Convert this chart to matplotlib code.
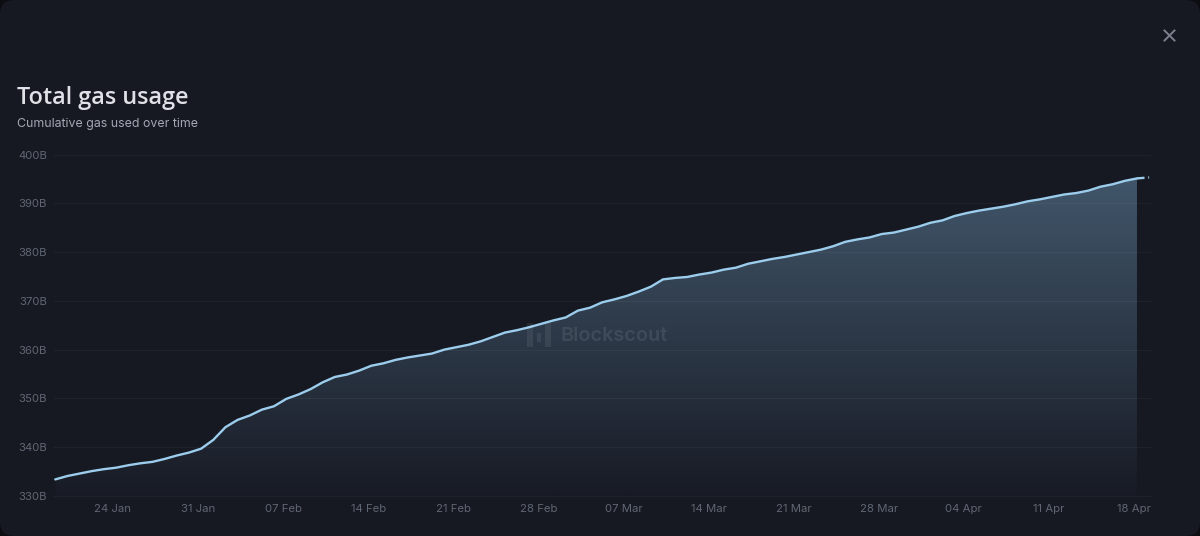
import matplotlib
matplotlib.use("Agg")
import matplotlib.pyplot as plt
from matplotlib.colors import LinearSegmentedColormap
from matplotlib.lines import Line2D
from matplotlib.patches import FancyBboxPatch, Rectangle
import numpy as np
import pandas as pd

# Data (billions of gas, one value per day)
start_date = "2025-01-19"
gas_used = [
    333.4, 334.1, 334.6, 335.1, 335.5, 335.8, 336.3, 336.7, 337.0, 337.6,
    338.3, 338.9, 339.7, 341.5, 344.1, 345.6, 346.5, 347.7, 348.4, 349.9,
    350.8, 351.9, 353.3, 354.4, 354.9, 355.7, 356.7, 357.2, 357.9, 358.4,
    358.8, 359.2, 360.0, 360.5, 361.0, 361.7, 362.6, 363.5, 364.0, 364.6,
    365.3, 366.0, 366.6, 368.0, 368.6, 369.7, 370.3, 371.0, 371.9, 372.9,
    374.4, 374.7, 374.9, 375.4, 375.8, 376.4, 376.8, 377.6, 378.1, 378.6,
    379.0, 379.5, 380.0, 380.5, 381.2, 382.1, 382.6, 383.0, 383.7, 384.0,
    384.6, 385.2, 386.0, 386.5, 387.4, 388.0, 388.5, 388.9, 389.3, 389.8,
    390.4, 390.8, 391.3, 391.8, 392.1, 392.6, 393.4, 393.9, 394.6, 395.1,
]
last_partial = 395.3  # unfinished last day, drawn dashed

y_ticks = [330, 340, 350, 360, 370, 380, 390, 400]
y_labels = ["330B", "340B", "350B", "360B", "370B", "380B", "390B", "400B"]
x_tick_dates = ["2025-01-24", "2025-01-31", "2025-02-07", "2025-02-14", "2025-02-21",
                "2025-02-28", "2025-03-07", "2025-03-14", "2025-03-21", "2025-03-28",
                "2025-04-04", "2025-04-11", "2025-04-18"]
x_labels = ["24 Jan", "31 Jan", "07 Feb", "14 Feb", "21 Feb", "28 Feb", "07 Mar",
            "14 Mar", "21 Mar", "28 Mar", "04 Apr", "11 Apr", "18 Apr"]

W, H = 1200, 536
BG = "#161922"
LINE = "#9ccdec"

plt.rcParams["font.family"] = ["Inter", "DejaVu Sans"]

fig = plt.figure(figsize=(W / 100, H / 100), dpi=100, facecolor="#0b0d12")


def fx(x):
    return x / W


def fy(y):
    return 1 - y / H


# Dialog panel with rounded corners
fig.add_artist(FancyBboxPatch((0, 0), W, H, boxstyle="round,pad=0,rounding_size=14",
                              transform=None, facecolor=BG, edgecolor="none", zorder=-1))

ax = fig.add_axes([fx(54), fy(496), (1150 - 54) / W, (496 - 154.5) / H])
ax.set_facecolor("none")

x0 = pd.Timestamp("2025-01-24")
dates = pd.date_range(start_date, periods=len(gas_used) + 1)
# points sit slightly right of the tick for their day
days = np.array((dates - x0).days, dtype=float) + 0.25
y = np.array(gas_used)

# Gradient area
poly = ax.fill_between(days[:-1], y, 330, facecolor="none", edgecolor="none")
grad = LinearSegmentedColormap.from_list("area", ["#181b25", "#41566a"])
img = ax.imshow(np.linspace(1, 0, 256).reshape(-1, 1), cmap=grad, aspect="auto",
                extent=[days[0], days[-2], 330, y.max()], zorder=1)
img.set_clip_path(poly.get_paths()[0], ax.transData)
ax.set_xlim((54 - 113) / 12.154, (1150 - 113) / 12.154)
ax.set_ylim(330, 400)

# Grid
ax.grid(axis="y", color="white", alpha=0.045, linewidth=0.8, zorder=2)
ax.set_axisbelow(False)
ax.grid(axis="x", visible=False)

# Line plus the dashed last day
ax.plot(days[:-1], y, color=LINE, linewidth=1.7, zorder=3, solid_capstyle="round",
        solid_joinstyle="round")
ax.plot(days[-2:], [y[-1], last_partial], color=LINE, linewidth=1.7, zorder=3,
        linestyle=(0, (3.2, 1.6, 0.9, 10)))

for s in ax.spines.values():
    s.set_visible(False)

ax.set_yticks(y_ticks, y_labels)
tick_pos = [(pd.Timestamp(d) - x0).days for d in x_tick_dates]
ax.set_xticks(tick_pos, x_labels)
ax.tick_params(axis="both", length=0, labelcolor="#5f6572", labelsize=8.2)
ax.tick_params(axis="y", pad=5)
ax.tick_params(axis="x", pad=6)
for g in ax.get_ygridlines():
    g.set_clip_on(False)

# Headers
fig.text(fx(17), fy(98), "Total gas usage", color="#dfe1e6", fontsize=16.8,
         family=["Open Sans", "DejaVu Sans"], fontweight="semibold", va="center", ha="left")
fig.text(fx(17), fy(123.5), "Cumulative gas used over time", color="#a3a8b4",
         fontsize=8.9, va="center", ha="left")

# Close button
for xs, ys in [((1164.5, 1174.5), (30.5, 40.5)), ((1164.5, 1174.5), (40.5, 30.5))]:
    fig.add_artist(Line2D([fx(xs[0]), fx(xs[1])], [fy(ys[0]), fy(ys[1])],
                          color="#7c818d", linewidth=1.4, transform=fig.transFigure))

# Watermark
for bx, by, bw, bh in [(527, 323, 6, 24), (537, 333, 4, 9), (545, 323, 6, 24)]:
    fig.add_artist(Rectangle((fx(bx), fy(by + bh)), bw / W, bh / H, transform=fig.transFigure,
                             facecolor="white", alpha=0.07, edgecolor="none", zorder=5))
fig.text(fx(560), fy(336), "Blockscout", color="white", alpha=0.09, fontsize=14.3,
         fontweight="semibold", va="center", ha="left", zorder=5)

fig.savefig("out.png", dpi=100, facecolor=fig.get_facecolor())
